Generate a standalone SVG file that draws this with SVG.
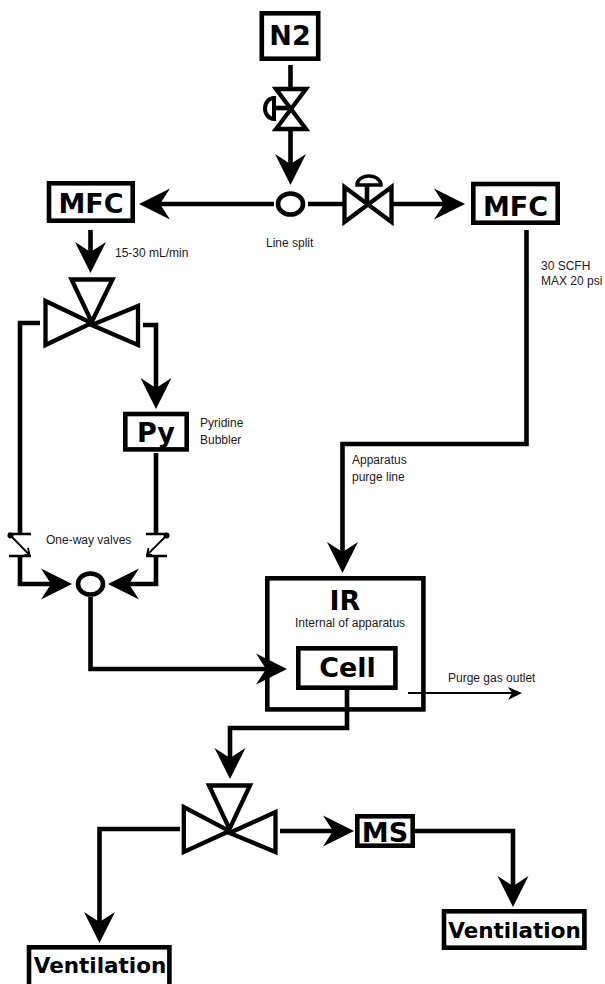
<svg xmlns="http://www.w3.org/2000/svg" width="605" height="984" viewBox="0 0 605 984">
<style>
.n{fill:#fff;stroke:#000;stroke-width:4.600}
.l{fill:none;stroke:#000;stroke-width:4.600}
.v{fill:#fff;stroke:#000;stroke-width:4.300;stroke-linejoin:miter;stroke-miterlimit:8}
.b{font-family:"DejaVu Sans",sans-serif;font-weight:bold;font-size:27px;text-anchor:middle;fill:#000}
.s{font-family:"Liberation Sans",Arial,sans-serif;font-size:12px;fill:#1a1a1a}
</style>
<defs>
<path id="ah" d="M0 0L-31 -15.500L-21 0L-31 15.500Z" fill="#000"/>
</defs>
<rect width="605" height="984" fill="#fff"/>
<g id="connectors">
<path class="l" d="M290.500 65V87M290.500 131V170"/>
<path class="l" d="M274 204H150M308 204H343M393 204H450"/>
<path class="l" d="M90.500 230V258"/>
<path class="l" d="M40 323H20V533M20 556V584H58"/>
<path class="l" d="M143 325H156V394M156 453V533M156 556V584H122"/>
<path class="l" d="M90.500 597V669H272"/>
<path class="l" d="M526.500 230V444H342.500V558"/>
<path class="l" d="M347 690V728H230V764"/>
<path class="l" d="M180 829H99.500V928"/>
<path class="l" d="M280 831H340M415 831H513V892"/>
<path fill="none" stroke="#000" stroke-width="2" d="M408 693H512"/>
<use href="#ah" transform="translate(290.500 185) rotate(90)"/>
<use href="#ah" transform="translate(139 204) rotate(180)"/>
<use href="#ah" transform="translate(465 204)"/>
<use href="#ah" transform="translate(90.500 273) rotate(90)"/>
<use href="#ah" transform="translate(156 409) rotate(90)"/>
<use href="#ah" transform="translate(72 584)"/>
<use href="#ah" transform="translate(108 584) rotate(180)"/>
<use href="#ah" transform="translate(342.500 573) rotate(90)"/>
<use href="#ah" transform="translate(287 669)"/>
<use href="#ah" transform="translate(230 779) rotate(90)"/>
<use href="#ah" transform="translate(99.500 943) rotate(90)"/>
<use href="#ah" transform="translate(354 831)"/>
<use href="#ah" transform="translate(513 907) rotate(90)"/>
<path d="M522 693L508 687L512 693L508 700Z" fill="#000"/>
</g>
<g id="n2"><rect class="n" x="261.800" y="13.300" width="56.400" height="45.400"/><text class="b" x="290" y="45">N2</text></g>
<g id="valve-n2"><path class="v" d="M276 89H306L276 129H306Z"/><path class="l" d="M291 108H274"/><path d="M274 98A9 10.500 0 0 0 274 119Z" fill="#fff" stroke="#000" stroke-width="4"/></g>
<g id="split"><ellipse class="n" cx="290.500" cy="204" rx="12.500" ry="10.500"/></g>
<g id="valve-right"><path class="v" d="M344.500 187V222L391.500 187V222Z"/><path class="l" d="M367 204V185"/><path d="M357 185A12 9 0 0 1 381 185Z" fill="#fff" stroke="#000" stroke-width="3.500"/></g>
<g id="mfc-left"><rect class="n" x="49" y="183.300" width="83.700" height="37.400"/><text class="b" x="91" y="213">MFC</text></g>
<g id="mfc-right"><rect class="n" x="473.300" y="184" width="84.400" height="38.700"/><text class="b" x="515.500" y="216">MFC</text></g>
<g id="valve3-top"><path class="v" d="M71.500 279.500H112.500L91.700 322Z"/><path class="v" d="M45.500 301V345L91.700 323Z"/><path class="v" d="M138 306V345L91.700 325Z"/></g>
<g id="py"><rect class="n" x="125.300" y="414" width="61.400" height="35.400"/><text class="b" x="156" y="442">Py</text></g>
<g id="check-left"><path fill="none" stroke="#000" stroke-width="2.500" d="M8 534H31M9 556H31"/><circle cx="10.500" cy="535.500" r="3"/><path fill="none" stroke="#000" stroke-width="1.800" d="M10.500 535.500L29.500 555M24.500 555H29.500L28 548"/></g>
<g id="check-right"><path fill="none" stroke="#000" stroke-width="2.500" d="M146 534H167M146 556H167"/><circle cx="166.500" cy="535.500" r="3"/><path fill="none" stroke="#000" stroke-width="1.800" d="M166.500 535.500L147 555M152 555H147L148.500 548"/></g>
<g id="join"><ellipse class="n" cx="90.500" cy="584" rx="12.500" ry="10.500"/></g>
<g id="ir"><rect class="l" x="267.300" y="578.300" width="156.100" height="131.100"/><text class="b" x="345" y="610">IR</text></g>
<g id="cell"><rect class="n" x="298.300" y="648.300" width="97.100" height="39.400"/><text class="b" x="347.500" y="677">Cell</text></g>
<g id="valve3-bottom"><path class="v" d="M209 785.500H250L229.500 829Z"/><path class="v" d="M183.800 807V852L229.500 831Z"/><path class="v" d="M275.500 812V852L229.500 833Z"/></g>
<g id="ms"><rect class="n" x="357.300" y="816.300" width="55.400" height="29.400"/><text class="b" x="385" y="842">MS</text></g>
<g id="vent-right"><rect class="n" x="444" y="911.300" width="140.400" height="36.400"/><text class="b" x="514.500" y="938" style="font-size:21.500px">Ventilation</text></g>
<g id="vent-left"><rect class="n" x="29" y="947.300" width="140.400" height="40"/><text class="b" x="100" y="973" style="font-size:21.500px">Ventilation</text></g>
<g id="labels">
<text class="s" x="266" y="247">Line split</text>
<text class="s" x="115" y="257">15-30 mL/min</text>
<text class="s" x="541" y="270">30 SCFH</text>
<text class="s" x="541" y="285">MAX 20 psi</text>
<text class="s" x="200" y="427">Pyridine</text>
<text class="s" x="200" y="444">Bubbler</text>
<text class="s" x="352" y="464">Apparatus</text>
<text class="s" x="352" y="481">purge line</text>
<text class="s" x="46" y="544">One-way valves</text>
<text class="s" x="295" y="627">Internal of apparatus</text>
<text class="s" x="448" y="682">Purge gas outlet</text>
</g>
</svg>
